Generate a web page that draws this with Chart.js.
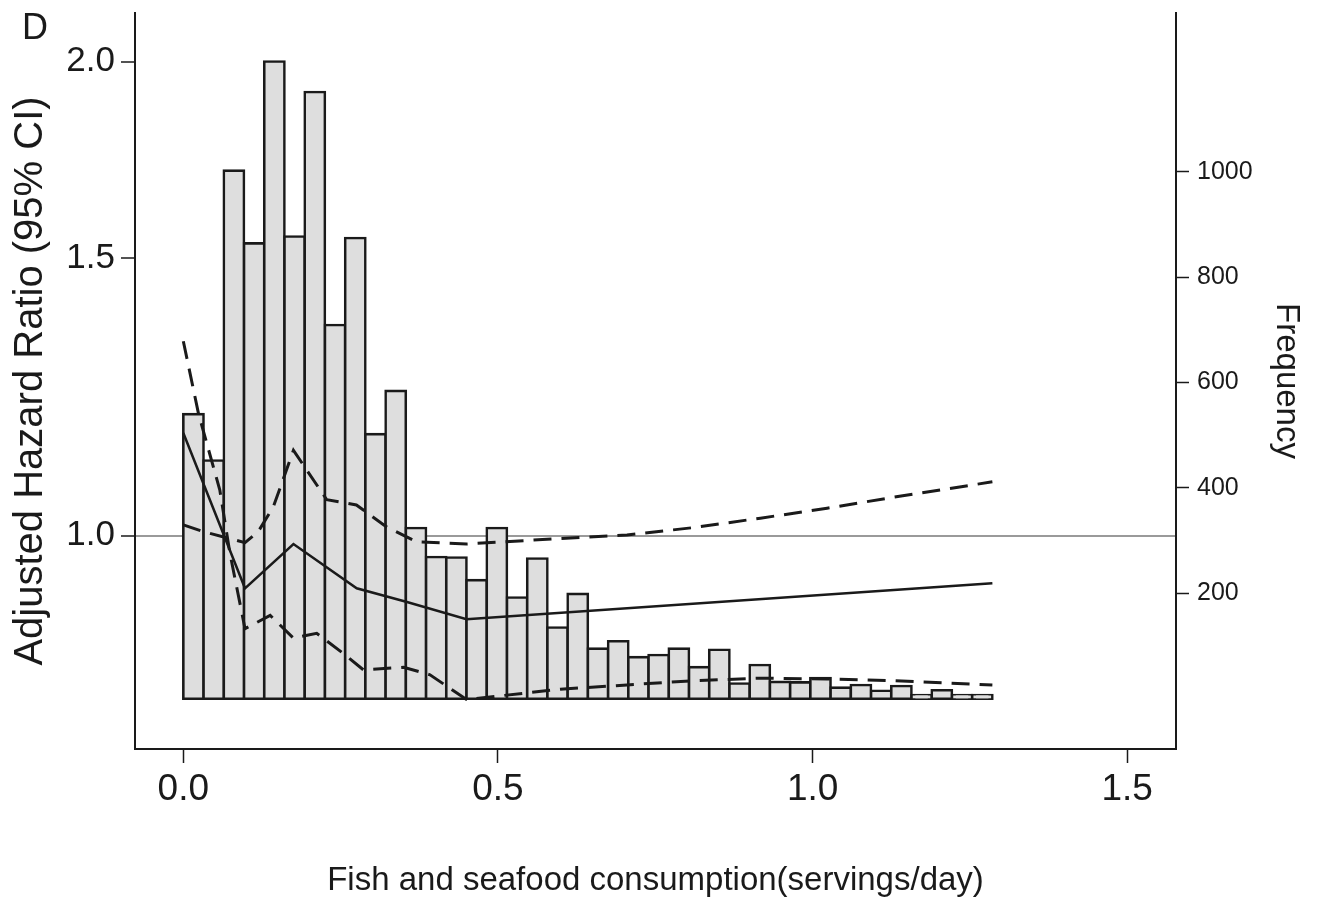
<!DOCTYPE html>
<html>
<head>
<meta charset="utf-8">
<script src="https://cdn.jsdelivr.net/npm/chart.js@4.4.0/dist/chart.umd.min.js"></script>
<style>
  html, body { margin: 0; padding: 0; background: #fff; }
  #wrap { position: relative; width: 1327px; height: 905px; }
  #panel { position: absolute; left: 22px; top: 9px; font: 36px "Liberation Sans", Arial, sans-serif; line-height: 36px; color: #1a1a1a; }
</style>
</head>
<body>
<div id="wrap">
  <canvas id="chart" width="1327" height="905"></canvas>
  <div id="panel">D</div>
</div>
<script>
// histogram: 40 bins over 0 .. 9/7 servings/day
const binStart = 0;
const binWidth = 9 / 7 / 40;
const freq = [540, 452, 1002, 864, 1209, 877, 1151, 709, 874, 502,
              584, 324, 269, 268, 225, 324, 192, 266, 135, 199,
              95, 109, 79, 83, 95, 60, 93, 29, 64, 32,
              31, 39, 21, 26, 15, 24, 7, 16, 7, 7];

// adjusted hazard ratio
const hrX = [0, 0.098, 0.175, 0.2755, 0.354, 0.45, 1.2857];
const hrY = [1.162, 0.926, 0.988, 0.926, 0.908, 0.885, 0.933];

// 95% CI, the line that starts high
const ciAX = [0, 0.024, 0.058, 0.074, 0.098, 0.138, 0.175, 0.212, 0.254, 0.286,
              0.350, 0.392, 0.450, 0.599, 0.705, 0.811, 0.917, 1.023, 1.129, 1.2857];
const ciAY = [1.329, 1.196, 1.069, 0.975, 0.873, 0.890, 0.861, 0.867, 0.842, 0.822,
              0.825, 0.816, 0.787, 0.799, 0.804, 0.809, 0.812, 0.811, 0.809, 0.804];

// 95% CI, the line that starts near 1
const ciBX = [0, 0.032, 0.098, 0.119, 0.143, 0.175, 0.228, 0.275, 0.323, 0.371,
              0.450, 0.599, 0.705, 0.811, 0.917, 1.023, 1.129, 1.2857];
const ciBY = [1.016, 1.006, 0.990, 1.006, 1.043, 1.133, 1.054, 1.046, 1.013, 0.991,
              0.988, 0.996, 1.001, 1.012, 1.026, 1.041, 1.058, 1.082];

const xTicks = [0, 0.5, 1.0, 1.5];
const hrTicks = [1.0, 1.5, 2.0];
const freqTicks = [200, 400, 600, 800, 1000];

const FONT = '"Liberation Sans", Arial, sans-serif';
const INK = '#1a1a1a';

function toPoints(xs, ys) {
  return xs.map((x, i) => ({ x: x, y: ys[i] }));
}

const bars = freq.map((f, i) => ({ x: binStart + (i + 0.5) * binWidth, y: f }));

// keep the plot box where the reference has it
function fixVertical(width) {
  return (s) => { s.width = width; s.paddingTop = 0; s.paddingBottom = 0; };
}

new Chart(document.getElementById('chart'), {
  type: 'bar',
  data: {
    datasets: [
      {
        type: 'line', label: 'Adjusted HR', data: toPoints(hrX, hrY), yAxisID: 'y',
        borderColor: INK, borderWidth: 2.5, pointRadius: 0, tension: 0, order: 0
      },
      {
        type: 'line', label: '95% CI', data: toPoints(ciAX, ciAY), yAxisID: 'y',
        borderColor: INK, borderWidth: 3, borderDash: [18, 10], pointRadius: 0, tension: 0, order: 0
      },
      {
        type: 'line', label: '95% CI', data: toPoints(ciBX, ciBY), yAxisID: 'y',
        borderColor: INK, borderWidth: 3, borderDash: [18, 10], pointRadius: 0, tension: 0, order: 0
      },
      {
        type: 'bar', label: 'Frequency', data: bars, yAxisID: 'y2',
        backgroundColor: '#dedede', borderColor: INK,
        borderWidth: 2.6, inflateAmount: 1.3,
        borderSkipped: false, barPercentage: 1, categoryPercentage: 1, grouped: false, order: 1
      }
    ]
  },
  options: {
    responsive: false,
    animation: false,
    layout: { padding: { top: 13, left: 0, right: 0, bottom: 0 } },
    plugins: { legend: { display: false }, tooltip: { enabled: false } },
    scales: {
      x: {
        type: 'linear', position: 'bottom', min: -0.0768, max: 1.5775, offset: false, bounds: 'data',
        afterFit: (s) => { s.height = 156; s.paddingLeft = 0; s.paddingRight = 0; },
        afterBuildTicks: (s) => { s.ticks = xTicks.map(v => ({ value: v })); },
        ticks: {
          callback: (v) => Number(v).toFixed(1), font: { family: FONT, size: 37 },
          color: INK, padding: 5, maxRotation: 0, autoSkip: false
        },
        grid: { offset: false, drawOnChartArea: false, drawTicks: true, tickLength: 14, tickColor: INK, tickWidth: 1.5 },
        border: { display: true, color: INK, width: 2 },
        title: {
          display: true, text: 'Fish and seafood consumption(servings/day)',
          font: { family: FONT, size: 33 }, color: INK, padding: { top: 0, bottom: 4 }
        }
      },
      y: {
        type: 'logarithmic', position: 'left', min: 0.7321, max: 2.1475, bounds: 'data',
        afterFit: fixVertical(135),
        afterBuildTicks: (s) => { s.ticks = hrTicks.map(v => ({ value: v })); },
        ticks: {
          callback: (v) => Number(v).toFixed(1), font: { family: FONT, size: 35 },
          color: INK, padding: 6, autoSkip: false
        },
        grid: {
          drawOnChartArea: true, drawTicks: true, tickLength: 14,
          color: (ctx) => (ctx.tick && ctx.tick.value === 1 ? '#9a9a9a' : 'rgba(0,0,0,0)'),
          lineWidth: 2, tickColor: INK, tickWidth: 1.5
        },
        border: { display: true, color: INK, width: 2 },
        title: {
          display: true, text: 'Adjusted Hazard Ratio (95% CI)',
          font: { family: FONT, size: 40 }, color: INK, padding: { top: 7, bottom: 0 }
        }
      },
      y2: {
        type: 'linear', position: 'right', min: -95.4, max: 1301, bounds: 'data',
        afterFit: fixVertical(151),
        afterBuildTicks: (s) => { s.ticks = freqTicks.map(v => ({ value: v })); },
        ticks: {
          callback: (v) => String(v), font: { family: FONT, size: 25 },
          color: INK, padding: 8, autoSkip: false
        },
        grid: { drawOnChartArea: false, drawTicks: true, tickLength: 13, tickColor: INK, tickWidth: 1.5 },
        border: { display: true, color: INK, width: 2 },
        title: {
          display: true, text: 'Frequency',
          font: { family: FONT, size: 33 }, color: INK, padding: { top: 21, bottom: 0 }
        }
      }
    }
  }
});
</script>
</body>
</html>
